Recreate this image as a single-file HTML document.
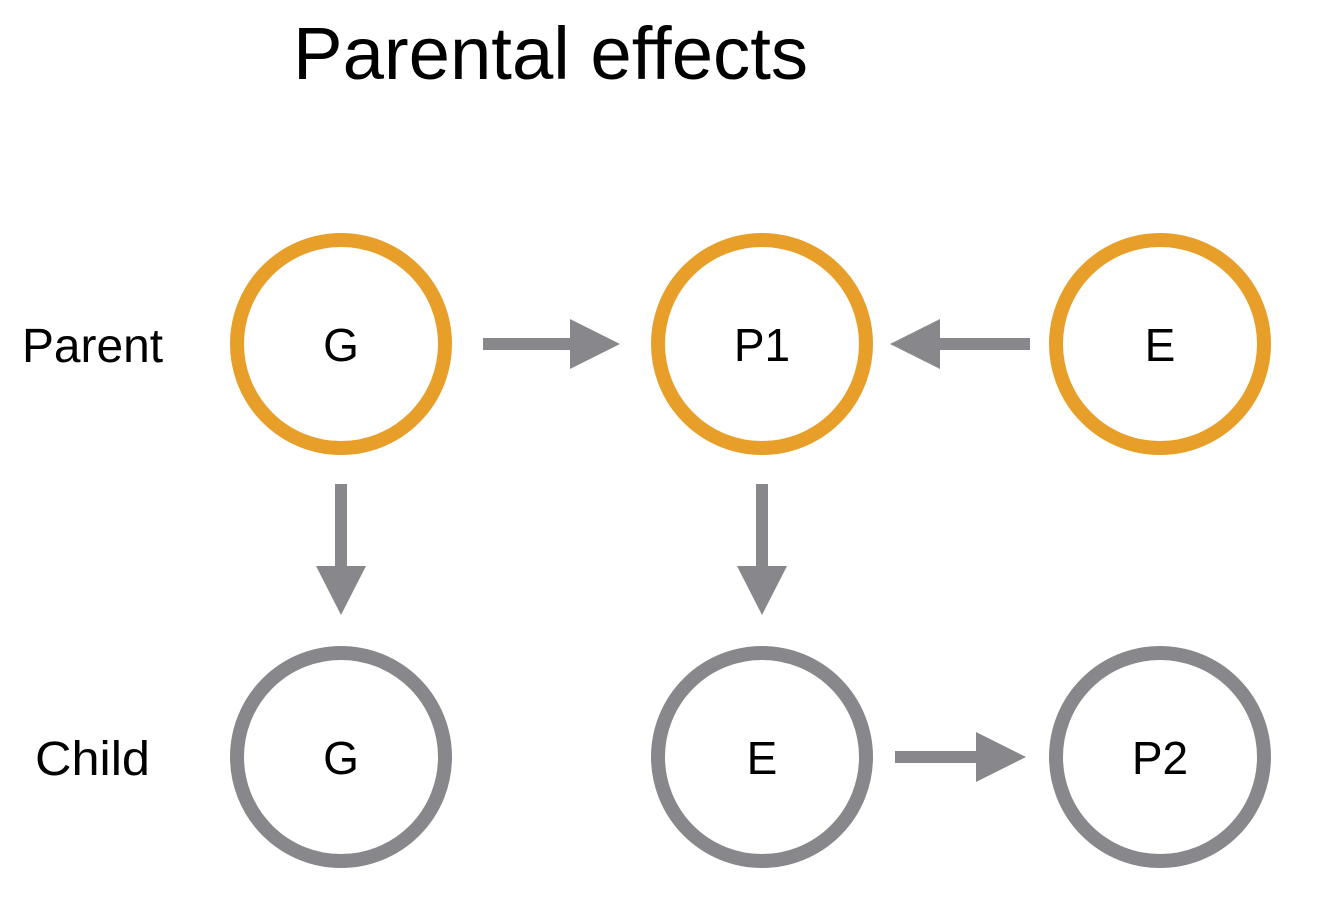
<!DOCTYPE html>
<html><head><meta charset="utf-8"><style>
html,body{margin:0;padding:0;background:#fff;}
svg{display:block;}
text{font-family:"Liberation Sans",sans-serif;fill:#000;}
</style></head><body>
<svg width="1321" height="897" viewBox="0 0 1321 897" xmlns="http://www.w3.org/2000/svg">
<text x="293" y="79" font-size="74" textLength="515" lengthAdjust="spacingAndGlyphs">Parental effects</text>
<text x="22" y="362" font-size="48" textLength="141" lengthAdjust="spacingAndGlyphs">Parent</text>
<text x="35" y="775" font-size="48" textLength="115" lengthAdjust="spacingAndGlyphs">Child</text>
<g fill="none" stroke-width="14">
<circle cx="341" cy="344" r="104" stroke="#E89F2A"/>
<circle cx="762" cy="344" r="104" stroke="#E89F2A"/>
<circle cx="1160" cy="344" r="104" stroke="#E89F2A"/>
<circle cx="341" cy="757" r="104" stroke="#88888C"/>
<circle cx="762" cy="757" r="104" stroke="#88888C"/>
<circle cx="1160" cy="757" r="104" stroke="#88888C"/>
</g>
<g font-size="46" text-anchor="middle">
<text x="341" y="361">G</text>
<text x="762" y="361">P1</text>
<text x="1160" y="361">E</text>
<text x="341" y="774">G</text>
<text x="762" y="774">E</text>
<text x="1160" y="774">P2</text>
</g>
<g fill="#88888C">
<rect x="483" y="338" width="90" height="12"/>
<polygon points="570,319 620,344 570,369"/>
<rect x="937" y="338" width="93" height="12"/>
<polygon points="940,319 890,344 940,369"/>
<rect x="335" y="484" width="12" height="85"/>
<polygon points="316,566 366,566 341,615"/>
<rect x="756" y="484" width="12" height="85"/>
<polygon points="737,566 787,566 762,615"/>
<rect x="895" y="751" width="84" height="12"/>
<polygon points="976,732 1026,757 976,782"/>
</g>
</svg>
</body></html>
